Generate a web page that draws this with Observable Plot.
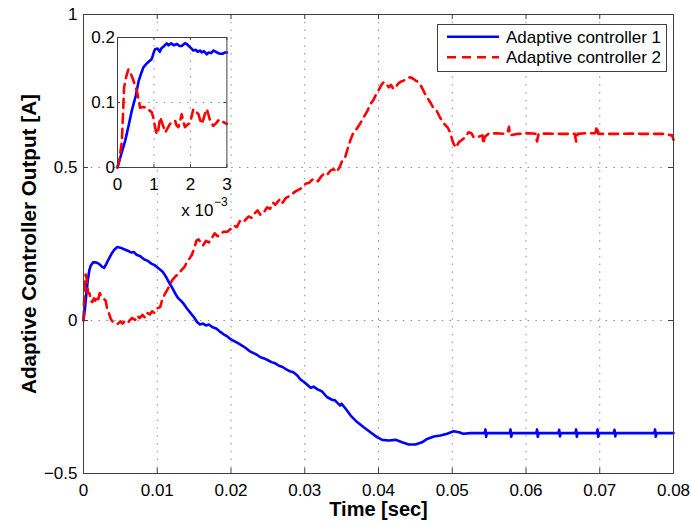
<!DOCTYPE html>
<html><head><meta charset="utf-8">
<script src="https://cdn.jsdelivr.net/npm/d3@7"></script>
<script src="https://cdn.jsdelivr.net/npm/@observablehq/plot@0.6"></script>
<style>
body{margin:0;background:#fff;font-family:"Liberation Sans",Arial,sans-serif;}
#wrap{position:relative;width:691px;height:524px;overflow:hidden;}
#wrap svg{display:block;}
</style></head><body><div id="wrap"></div>
<script>
// ---------- data ----------
const seriesNames = ["Adaptive controller 1", "Adaptive controller 2"];

const time1 = [
  0,0.0002,0.0004,0.0006,0.0008,0.001,0.0013,0.0016,0.0019,0.0022,
  0.0025,0.0028,0.0031,0.0034,0.0038,0.0042,0.0046,0.005,0.0055,0.006,
  0.0065,0.0068,0.0072,0.0077,0.0082,0.0087,0.0092,0.0097,0.0102,0.0107,
  0.011,0.0113,0.0117,0.012,0.0124,0.0128,0.0132,0.0136,0.014,0.0145,
  0.015,0.0154,0.0158,0.0162,0.0166,0.017,0.0175,0.018,0.0186,0.019,
  0.0195,0.02,0.0205,0.021,0.0215,0.022,0.0225,0.023,0.0235,0.024,
  0.0245,0.025,0.0255,0.026,0.0265,0.027,0.0275,0.028,0.0285,0.029,
  0.0294,0.0301,0.0308,0.0312,0.0318,0.0323,0.033,0.0337,0.0341,0.0348,
  0.035,0.0356,0.0362,0.0371,0.038,0.0389,0.0398,0.0405,0.0414,0.0423,
  0.0432,0.0441,0.045,0.0459,0.0466,0.0475,0.0484,0.0493,0.0502,0.0509,
  0.0515,0.0525,
  0.0544,0.0545,0.0546,0.0547,
  0.0578,0.0579,0.058,0.0581,
  0.0614,0.0615,0.0616,0.0617,
  0.0644,0.0645,0.0646,0.0647,
  0.0667,0.0668,0.0669,0.067,
  0.0696,0.0697,0.0698,0.0699,
  0.0719,0.072,0.0721,0.0722,
  0.0774,0.0775,0.0776,0.0777,
  0.08];
const ctrl1 = [
  0,0.04,0.09,0.135,0.165,0.18,0.19,0.19,0.188,0.183,
  0.176,0.172,0.185,0.2,0.218,0.232,0.24,0.238,0.233,0.228,
  0.222,0.224,0.215,0.21,0.2,0.195,0.186,0.18,0.17,0.16,
  0.15,0.138,0.12,0.108,0.09,0.074,0.065,0.054,0.04,0.025,
  0.01,-0.005,-0.013,-0.01,-0.016,-0.013,-0.022,-0.026,-0.038,-0.045,
  -0.052,-0.062,-0.068,-0.075,-0.082,-0.09,-0.1,-0.106,-0.112,-0.12,
  -0.124,-0.13,-0.136,-0.14,-0.148,-0.152,-0.16,-0.166,-0.17,-0.18,
  -0.192,-0.205,-0.22,-0.216,-0.226,-0.231,-0.25,-0.259,-0.261,-0.278,
  -0.272,-0.29,-0.31,-0.332,-0.349,-0.365,-0.381,-0.39,-0.392,-0.39,
  -0.398,-0.405,-0.405,-0.398,-0.387,-0.379,-0.376,-0.37,-0.362,-0.365,
  -0.37,-0.368,
  -0.368,-0.356,-0.38,-0.368,
  -0.368,-0.356,-0.38,-0.368,
  -0.368,-0.356,-0.38,-0.368,
  -0.368,-0.357,-0.379,-0.368,
  -0.368,-0.356,-0.38,-0.368,
  -0.368,-0.356,-0.38,-0.368,
  -0.368,-0.357,-0.379,-0.368,
  -0.368,-0.356,-0.38,-0.368,
  -0.368];

const time2 = [0,0.0001,0.0002,0.0003,0.0004,0.0005,0.0006,0.0008,0.001,0.0012,0.0014,0.0016,0.0018,0.002,0.0022,0.0024,0.0026,0.0028,0.003,0.0032,0.0035,0.0037,0.004,0.0043,0.0046,0.005,0.0053,0.0056,0.006,0.0063,0.0066,0.007,0.0073,0.0076,0.008,0.0083,0.0086,0.009,0.0093,0.0096,0.01,0.0104,0.0107,0.011,0.0113,0.0117,0.012,0.0125,0.0129,0.0133,0.0137,0.014,0.0143,0.0147,0.015,0.0153,0.0156,0.0159,0.0162,0.0166,0.017,0.0174,0.0178,0.0182,0.0186,0.019,0.0195,0.02,0.0204,0.0208,0.0212,0.0216,0.022,0.0224,0.0228,0.0232,0.0236,0.024,0.0245,0.0249,0.0253,0.0257,0.026,0.0264,0.0267,0.027,0.0274,0.0278,0.0282,0.0286,0.029,0.0294,0.0298,0.0302,0.0306,0.031,0.0314,0.0318,0.0322,0.0326,0.033,0.0335,0.0339,0.0343,0.0347,0.0351,0.0355,0.0358,0.0362,0.0366,0.037,0.0375,0.038,0.0385,0.0389,0.0393,0.0397,0.04,0.0404,0.0407,0.041,0.0414,0.0417,0.042,0.0424,0.0427,0.043,0.0434,0.0438,0.0443,0.0447,0.045,0.0454,0.0458,0.0463,0.0467,0.0471,0.0475,0.0479,0.0483,0.0486,0.049,0.0494,0.0497,0.05,0.0502,0.0505,0.0509,0.0513,0.0518,0.0522,0.0526,0.0529,0.0535,0.0541,0.0542,0.0544,0.0549,0.056,0.0572,0.0575,0.0577,0.0578,0.059,0.0605,0.0613,0.0615,0.0617,0.063,0.064,0.0655,0.0666,0.0668,0.067,0.068,0.0694,0.0696,0.0698,0.071,0.0725,0.074,0.0755,0.077,0.0785,0.0798,0.08];
const ctrl2 = [0,0.08,0.14,0.15,0.14,0.12,0.09,0.09,0.065,0.06,0.072,0.065,0.08,0.07,0.09,0.08,0.075,0.07,0.065,0.04,0.02,0.005,-0.005,-0.008,-0.012,-0.003,-0.01,-0.002,-0.008,0.002,0.008,0.002,0.016,0.008,0.018,0.01,0.025,0.02,0.03,0.025,0.04,0.044,0.07,0.085,0.098,0.115,0.131,0.145,0.152,0.165,0.175,0.19,0.2,0.215,0.235,0.26,0.265,0.255,0.245,0.26,0.255,0.27,0.285,0.275,0.285,0.29,0.29,0.3,0.31,0.305,0.325,0.32,0.33,0.34,0.335,0.35,0.36,0.345,0.355,0.37,0.365,0.385,0.378,0.39,0.398,0.385,0.4,0.405,0.41,0.42,0.425,0.43,0.44,0.448,0.45,0.46,0.463,0.455,0.47,0.48,0.475,0.49,0.495,0.485,0.5,0.523,0.535,0.56,0.59,0.615,0.625,0.643,0.665,0.685,0.708,0.72,0.74,0.752,0.77,0.779,0.775,0.762,0.77,0.757,0.765,0.775,0.78,0.784,0.79,0.795,0.79,0.785,0.779,0.765,0.741,0.725,0.71,0.692,0.685,0.665,0.654,0.64,0.63,0.615,0.59,0.577,0.565,0.583,0.59,0.6,0.615,0.612,0.599,0.6,0.605,0.577,0.6,0.61,0.612,0.61,0.615,0.633,0.605,0.61,0.612,0.61,0.585,0.61,0.611,0.61,0.61,0.61,0.585,0.61,0.612,0.612,0.635,0.61,0.61,0.61,0.611,0.61,0.61,0.61,0.605,0.59];

const insetTime1 = [0,0.0001,0.00021,0.0003,0.00039,0.0005,0.00058,0.00065,0.00071,0.0008,0.00094,0.001,0.00103,0.0011,0.00116,0.0012,0.00128,0.00135,0.0014,0.00147,0.00155,0.00163,0.0017,0.00176,0.00185,0.0019,0.00197,0.00203,0.00208,0.00215,0.0022,0.00226,0.00231,0.00237,0.00245,0.0025,0.00257,0.00263,0.0027,0.00276,0.00281,0.00288,0.00295,0.003];
const insetCtrl1 = [0,0.02,0.041,0.063,0.087,0.11,0.133,0.145,0.154,0.16,0.167,0.178,0.182,0.183,0.178,0.183,0.187,0.191,0.188,0.191,0.188,0.19,0.187,0.187,0.191,0.19,0.186,0.183,0.18,0.181,0.178,0.18,0.177,0.179,0.174,0.177,0.176,0.18,0.178,0.176,0.175,0.175,0.177,0.177];
const insetTime2 = [0,0.00006,0.00012,0.00015,0.00018,0.00024,0.0003,0.00035,0.00039,0.00046,0.00053,0.00058,0.00062,0.0007,0.0008,0.00087,0.00094,0.00099,0.00103,0.00108,0.00112,0.00117,0.00124,0.00131,0.00138,0.00144,0.0015,0.00158,0.00162,0.00167,0.00172,0.00176,0.0018,0.00185,0.0019,0.00199,0.00204,0.00208,0.00215,0.00222,0.00226,0.00231,0.00236,0.0024,0.00245,0.0025,0.00254,0.00258,0.00263,0.0027,0.00276,0.00281,0.0029,0.003];
const insetCtrl2 = [0,0.015,0.041,0.08,0.123,0.14,0.151,0.147,0.141,0.13,0.118,0.104,0.092,0.093,0.092,0.088,0.085,0.075,0.062,0.051,0.058,0.077,0.066,0.054,0.061,0.067,0.07,0.072,0.065,0.062,0.072,0.082,0.072,0.062,0.065,0.069,0.08,0.09,0.086,0.082,0.074,0.067,0.075,0.083,0.09,0.08,0.072,0.068,0.064,0.068,0.072,0.074,0.07,0.067];

const xTicks = [0,0.01,0.02,0.03,0.04,0.05,0.06,0.07,0.08];
const yTicks = [-0.5,0,0.5,1];
const insetXTicks = [0,0.001,0.002,0.003];
const insetYTicks = [0,0.1,0.2];

// ---------- layout ----------
const W = 691, H = 524;
const mL = 83, mR = 18, mT = 14, mB = 51;
const fw = W - mL - mR, fh = H - mT - mB;
const FONT = '"Liberation Sans", Arial, Helvetica, sans-serif';
const axisColor = "#404040";
const gridStyle = {stroke: "#8a8a8a", strokeDasharray: "1.5,6.3", strokeWidth: 1};
const lineStyles = [
  {stroke: "#0000ff", strokeWidth: 2.6},
  {stroke: "#ff0000", strokeWidth: 2.6, strokeDasharray: "9,6"}
];
const fmtY = d => (d < 0 ? "\u2212" : "") + Math.abs(d);

const d1 = time1.map((t, i) => ({t, v: ctrl1[i]}));
const d2 = time2.map((t, i) => ({t, v: ctrl2[i]}));

const main = Plot.plot({
  width: W, height: H,
  marginLeft: mL, marginRight: mR, marginTop: mT, marginBottom: mB,
  style: {fontFamily: FONT, fontSize: "17px", color: "#000", background: "transparent", overflow: "visible"},
  x: {domain: [0, 0.08]},
  y: {domain: [-0.5, 1]},
  marks: [
    Plot.ruleX(xTicks.slice(1, -1), {x: d => d, ...gridStyle}),
    Plot.ruleY(yTicks.slice(1, -1), {y: d => d, ...gridStyle}),
    Plot.line(d1, {x: "t", y: "v", ...lineStyles[0]}),
    Plot.line(d2, {x: "t", y: "v", ...lineStyles[1]}),
    Plot.frame({stroke: axisColor, strokeWidth: 1}),
    Plot.ruleX(xTicks, {x: d => d, insetTop: fh - 5, stroke: axisColor}),
    Plot.ruleX(xTicks, {x: d => d, insetBottom: fh - 5, stroke: axisColor}),
    Plot.ruleY(yTicks, {y: d => d, insetRight: fw - 5, stroke: axisColor}),
    Plot.ruleY(yTicks, {y: d => d, insetLeft: fw - 5, stroke: axisColor}),
    Plot.axisX(xTicks, {anchor: "bottom", tickSize: 0, tickPadding: 10, tickFormat: d => String(+d.toFixed(2)), label: null, fontSize: 17}),
    Plot.axisY(yTicks, {anchor: "left", tickSize: 0, tickPadding: 6, tickFormat: fmtY, label: null, fontSize: 17}),
    Plot.text(["Time [sec]"], {frameAnchor: "bottom", dy: 42.7, lineAnchor: "bottom", textAnchor: "middle", text: d => d, fontSize: 20, fontWeight: "bold", fill: "#000"}),
    Plot.text(["Adaptive Controller Output [A]"], {frameAnchor: "left", dx: -48, rotate: -90, lineAnchor: "bottom", textAnchor: "middle", text: d => d, fontSize: 20.7, fontWeight: "bold", fill: "#000"})
  ]
});
document.getElementById("wrap").appendChild(main);

// legend
const svg = d3.select(main);
const lg = svg.append("g").attr("font-family", FONT).attr("font-size", 17).attr("text-anchor", "start");
lg.append("rect").attr("x", 437.5).attr("y", 24.5).attr("width", 229).attr("height", 47)
  .attr("fill", "#fff").attr("stroke", axisColor).attr("stroke-width", 1);
seriesNames.forEach((name, i) => {
  const y = 36.7 + i * 20.6;
  const s = lineStyles[i];
  lg.append("line").attr("x1", 447).attr("x2", 499).attr("y1", y).attr("y2", y)
    .attr("stroke", s.stroke).attr("stroke-width", s.strokeWidth)
    .attr("stroke-dasharray", s.strokeDasharray || null);
  lg.append("text").attr("x", 506).attr("y", y).attr("dy", "0.35em")
    .attr("text-anchor", "start").attr("fill", "#000").text(name);
});

// ---------- inset ----------
const iL = 40, iR = 8, iT = 8, iB = 60;
const ifw = 109.4, ifh = 130;
const e1 = insetTime1.map((t, i) => ({t, v: insetCtrl1[i]}));
const e2 = insetTime2.map((t, i) => ({t, v: insetCtrl2[i]}));
const inset = Plot.plot({
  width: iL + ifw + iR, height: iT + ifh + iB,
  marginLeft: iL, marginRight: iR, marginTop: iT, marginBottom: iB,
  style: {fontFamily: FONT, fontSize: "17px", color: "#000", background: "transparent", overflow: "visible"},
  x: {domain: [0, 0.003]},
  y: {domain: [0, 0.2]},
  marks: [
    Plot.frame({fill: "#fff"}),
    Plot.ruleX(insetXTicks.slice(1, -1), {x: d => d, ...gridStyle}),
    Plot.ruleY(insetYTicks.slice(1, -1), {y: d => d, ...gridStyle}),
    Plot.line(e1, {x: "t", y: "v", ...lineStyles[0]}),
    Plot.line(e2, {x: "t", y: "v", ...lineStyles[1]}),
    Plot.frame({stroke: axisColor, strokeWidth: 1}),
    Plot.ruleX(insetXTicks, {x: d => d, insetTop: ifh - 3, stroke: axisColor}),
    Plot.ruleX(insetXTicks, {x: d => d, insetBottom: ifh - 3, stroke: axisColor}),
    Plot.ruleY(insetYTicks, {y: d => d, insetRight: ifw - 3, stroke: axisColor}),
    Plot.ruleY(insetYTicks, {y: d => d, insetLeft: ifw - 3, stroke: axisColor}),
    Plot.axisX(insetXTicks, {anchor: "bottom", tickSize: 0, tickPadding: 10, tickFormat: d => String(Math.round(d * 1000)), label: null, fontSize: 17}),
    Plot.axisY(insetYTicks, {anchor: "left", tickSize: 0, tickPadding: 2.5, tickFormat: d => String(d), label: null, fontSize: 17}),
    Plot.text(["x 10"], {frameAnchor: "bottom-right", dx: -13.5, dy: 49, textAnchor: "end", text: d => d, fontSize: 17, fill: "#000"}),
    Plot.text(["\u22123"], {frameAnchor: "bottom-right", dx: -13, dy: 39, textAnchor: "start", text: d => d, fontSize: 12, fill: "#000"})
  ]
});
inset.style.position = "absolute";
inset.style.left = (117.3 - iL) + "px";
inset.style.top = (36.7 - iT) + "px";
document.getElementById("wrap").appendChild(inset);
</script>
</body></html>
